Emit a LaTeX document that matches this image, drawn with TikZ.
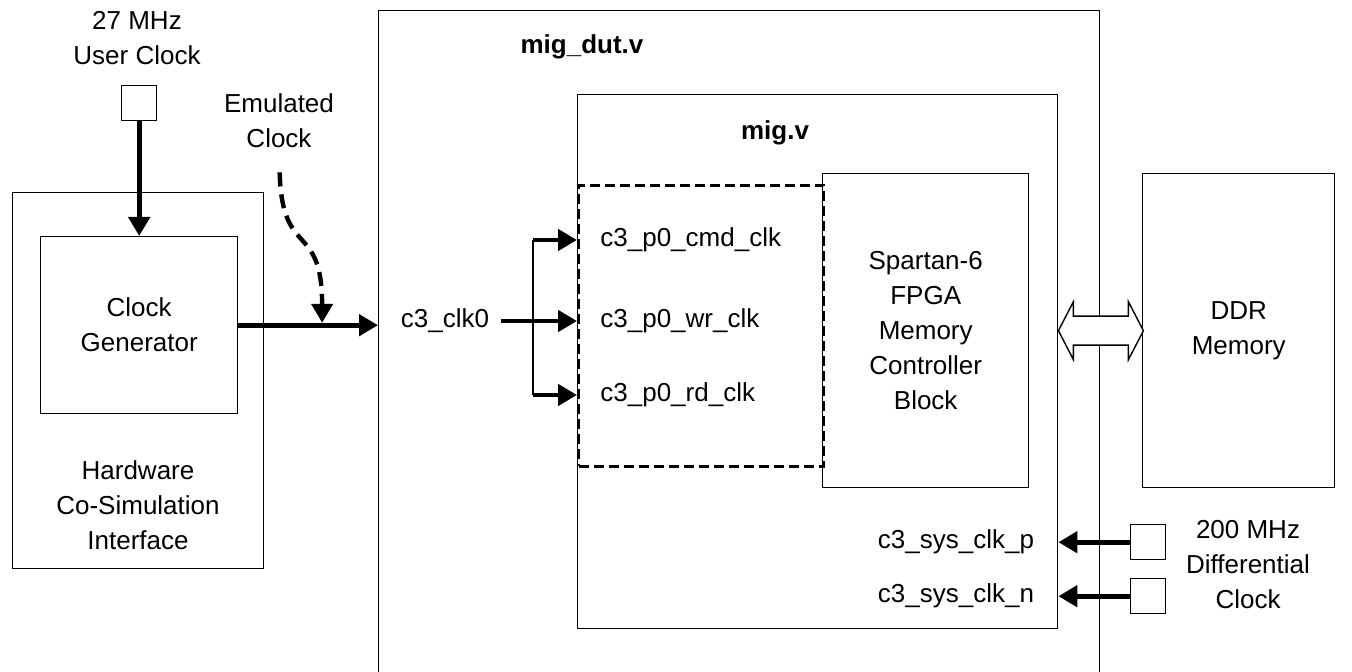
\documentclass[tikz,border=0pt]{standalone}
\usepackage{fontspec}
\setmainfont{Liberation Sans}
\usetikzlibrary{positioning,arrows.meta,calc}

\newcommand{\dgfont}{\fontsize{13}{17.5}\selectfont}

\tikzset{
  blk/.style={draw, line width=0.7pt, anchor=north west, inner sep=0pt, align=center},
  lbl/.style={inner sep=0pt, align=center},
  ttl/.style={lbl, font=\dgfont\bfseries},
  thn/.style={line width=0.7pt},
  thk/.style={line width=2.4pt, -{Triangle[length=9.5pt,width=10.5pt]}},
  emul/.style={line width=2.2pt, dash pattern=on 7pt off 4pt, -{Triangle[length=9.5pt,width=10.5pt]}},
  portbox/.style={draw, line width=1.5pt, dash pattern=on 5pt off 2.5pt, anchor=north west, inner sep=0pt},
}

\begin{document}
\begin{tikzpicture}[x=0.5pt,y=-0.5pt,font=\dgfont]
  \clip (0,0) rectangle (1352,672);

  % co-simulation side
  \node[blk, minimum width=125.5pt, minimum height=188pt] (hwci) at (12,192) {};
  \node[blk, minimum width=98.5pt, minimum height=88.5pt] (clkgen) at (40,236) {Clock\\Generator};
  \node[blk, minimum size=17.5pt] (usrclk) at (121,85) {};
  \node[lbl] (usrlbl) at (137,38) {27 MHz\\User Clock};
  \node[lbl] (hwlbl) at (138,505) {Hardware\\Co-Simulation\\Interface};
  \node[lbl] (emu) at (279,121) {Emulated\\Clock};

  % design blocks
  \node[blk, minimum width=360.5pt, minimum height=340pt] (migdut) at (378,10) {};
  \node[ttl] (dutlbl) at (582,47) {mig\_dut.v};
  \node[blk, minimum width=240pt, minimum height=267pt] (mig) at (577,94) {};
  \node[ttl] (miglbl) at (775,133) {mig.v};
  \node[portbox, minimum width=122.5pt, minimum height=140.5pt] (ports) at (577,184) {};
  \node[blk, minimum width=103pt, minimum height=157pt] (mcb) at (822,173) {Spartan-6\\FPGA\\Memory\\Controller\\Block};
  \node[blk, minimum width=96pt, minimum height=157pt] (ddr) at (1142,173) {DDR\\Memory};

  % clocks in
  \draw[thk] (usrclk.south) -- (clkgen.north);
  \draw[thk] (clkgen.east) -- (clkgen.east -| migdut.west);
  \coordinate (tap) at ($(clkgen.east)!0.6!(clkgen.east -| migdut.west)$);
  \draw[emul, shorten <=12pt, shorten >=1.2pt] (emu.south) .. controls (282,260) and (322,220) .. (tap);

  % fan-out to the port clocks
  \node[lbl] (c3clk) at (445,321) {c3\_clk0};
  \coordinate (fanup) at (533,240);
  \coordinate (fandn) at (533,395);
  \coordinate (cmdin) at (fanup -| ports.west);
  \coordinate (wrin) at (c3clk.east -| ports.west);
  \coordinate (rdin) at (fandn -| ports.west);
  \draw[thk, shorten <=6pt] (c3clk.east) -- (wrin);
  \draw[thn] (fanup) -- (fandn);
  \draw[thk] (fanup) -- (cmdin);
  \draw[thk] (fandn) -- (rdin);
  \node[lbl, right=11.5pt of cmdin] (cmdclk) {c3\_p0\_cmd\_clk};
  \node[lbl, right=11.5pt of wrin] (wrclk) {c3\_p0\_wr\_clk};
  \node[lbl, right=11.5pt of rdin] (rdclk) {c3\_p0\_rd\_clk};

  % memory link
  \coordinate (lnk) at (mig.east |- ddr.west);
  \draw[thn, fill=white] (lnk) -- ++(15,-29) -- ++(0,14.5) -- ++(55,0) -- ++(0,-14.5)
    -- ++(15,29) -- ++(-15,29) -- ++(0,-14.5) -- ++(-55,0) -- ++(0,14.5) -- cycle;

  % differential system clock
  \node[blk, minimum size=17.5pt] (sysp) at (1130,524) {};
  \node[blk, minimum size=17.5pt] (sysn) at (1130,578) {};
  \coordinate (pin) at (sysp.west -| mig.east);
  \coordinate (nin) at (sysn.west -| mig.east);
  \draw[thk] (sysp.west) -- (pin);
  \draw[thk] (sysn.west) -- (nin);
  \node[lbl, left=12pt of pin] (psys) {c3\_sys\_clk\_p};
  \node[lbl, left=12pt of nin] (nsys) {c3\_sys\_clk\_n};
  \node[lbl] (difflbl) at (1248,565) {200 MHz\\Differential\\Clock};
\end{tikzpicture}
\end{document}
